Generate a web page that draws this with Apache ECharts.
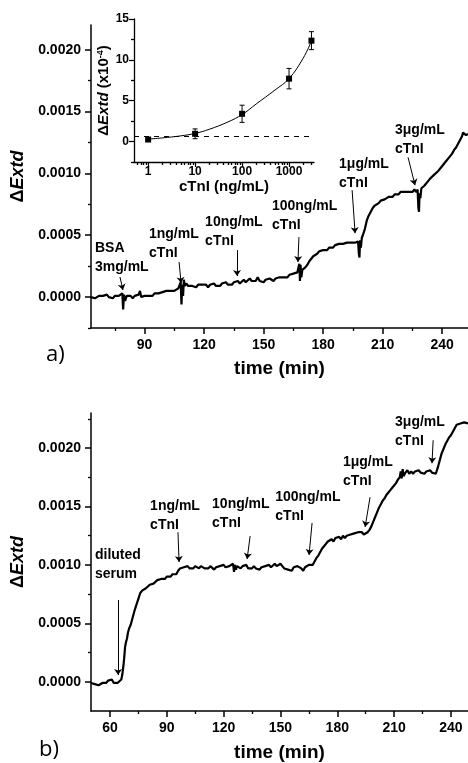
<!DOCTYPE html>
<html>
<head>
<meta charset="utf-8">
<script src="https://cdn.jsdelivr.net/npm/echarts@6/dist/echarts.min.js"></script>
<style>
  html, body { margin: 0; padding: 0; background: #fff; }
  #chart { width: 468px; height: 763px; }
</style>
</head>
<body>
<div id="chart"></div>
<script>
// ---- panel a) : BSA then cTnI steps ----
const aTime = [63,64,65,66,67,68,69,70,71,72,73,74,75,76,77,78,78.8,79.2,79.6,80.2,81,82,83,84,85,86,87,87.7,88.3,89,
  90,91,92,93,94,95,96,97,98,99,100,101,102,103,104,105,106,107,107.8,108.2,108.6,109,109.4,109.8,110.3,111,112,113,114,115,
  116,117,118,119,120,121,122,123,124,125,126,127,128,129,130,131,132,133,134,135,136,137,138,139,140,141,142,143,144,145,
  146,147,148,149,150,151,152,153,154,155,156,157,158,159,160,161,162,163,164,165,166,167,167.6,168,168.3,168.6,169,169.5,170,171,
  172,173,174,175,176,177,178,179,180,181,182,183,184,185,186,187,188,189,190,191,192,193,194,195,196,197,197.6,198,198.3,198.6,
  199,199.5,200,201,202,203,204,205,206,207,208,209,210,211,212,213,214,215,216,217,218,219,220,221,222,223,224,225,226,227,
  227.6,228,228.3,228.6,229,229.5,230,231,232,233,234,235,236,237,238,239,240,241,242,243,244,245,246,247,248,249,250,250.5,251,252,253];
const aValue = [0,0.00001,-0.00001,0,0.00001,0,0.00001,0,0.00002,0,0.00001,-0.00001,0.00001,0,0.00001,0,0.00003,-0.0001,0.00002,-0.00003,0.00001,0,0.00001,-0.00001,0.00001,0,0.00002,0.00005,0,0.00001,
  0.00001,0.00002,0.00001,0.00002,0.00001,0.00003,0.00002,0.00003,0.00002,0.00004,0.00003,0.00005,0.00004,0.00005,0.00006,0.00005,0.00006,0.00007,0.00006,0.00012,-0.00006,0.0001,0.00001,0.00014,0.00009,0.00011,0.00009,0.0001,0.00009,0.0001,
  0.00008,0.0001,0.00009,0.0001,0.00009,0.0001,0.00008,0.0001,0.00009,0.00011,0.00009,0.0001,0.00009,0.00011,0.0001,0.00012,0.0001,0.00011,0.0001,0.00012,0.00011,0.00013,0.00011,0.00012,0.00014,0.00012,0.00013,0.00015,0.00013,0.00014,
  0.00013,0.00016,0.00013,0.00014,0.00012,0.00014,0.00013,0.00015,0.00014,0.00013,0.00015,0.00014,0.00016,0.00015,0.00016,0.00017,0.00016,0.00018,0.00017,0.00019,0.00018,0.0002,0.00019,0.00027,0.00013,0.00026,0.00016,0.00022,0.00021,0.00024,
  0.00026,0.00029,0.00031,0.00033,0.00034,0.00035,0.00037,0.00036,0.00038,0.00039,0.00038,0.0004,0.00041,0.0004,0.00042,0.00041,0.00043,0.00042,0.00043,0.00042,0.00044,0.00043,0.00044,0.00043,0.00044,0.00043,0.00045,0.00035,0.00032,0.00046,
  0.0004,0.00048,0.0005,0.00055,0.00062,0.00066,0.00069,0.00072,0.00074,0.00075,0.00076,0.00078,0.00077,0.00079,0.0008,0.00081,0.00082,0.00081,0.00083,0.00084,0.00083,0.00085,0.00084,0.00085,0.00086,0.00085,0.00086,0.00085,0.00087,0.00085,
  0.00087,0.00072,0.00069,0.00084,0.0008,0.00088,0.00089,0.0009,0.00092,0.00094,0.00096,0.00097,0.00099,0.001,0.00102,0.00104,0.00106,0.00108,0.0011,0.00112,0.00114,0.00116,0.00119,0.00121,0.00124,0.00127,0.0013,0.00133,0.00132,0.00131,0.00132];

// ---- panel b) : diluted serum then cTnI steps ----
const bTime = [50,51,52,53,54,55,56,57,58,59,60,61,62,63,64,65,66,66.5,67,67.5,68,68.5,69,69.5,70,71,72,73,74,75,
  76,77,78,79,80,81,82,83,84,85,86,87,88,89,90,91,92,93,94,95,96,97,98,99,100,101,102,103,104,105,
  106,107,108,109,110,111,112,113,114,115,116,117,118,119,120,121,122,123,124,125,125.5,126,126.5,127,128,129,130,131,132,133,
  134,135,136,137,138,139,140,141,142,143,144,145,146,147,148,149,150,151,152,153,154,155,156,157,158,159,160,161,162,163,
  164,165,166,167,168,169,170,171,172,173,174,175,176,177,178,179,180,181,182,183,184,185,186,187,188,189,190,191,192,193,
  194,195,196,197,198,199,200,201,202,203,204,205,206,207,208,209,210,211,212,213,213.5,214,214.5,215,216,217,218,219,220,221,
  222,223,224,225,226,227,228,229,230,231,232,233,234,235,236,237,238,239,240,241,242,243,244,245,246,247,248,249];
const bValue = [-0.00001,0,-0.00002,-0.00001,-0.00003,-0.00002,-0.00001,0,-0.00001,0.00001,0,0.00002,-0.00001,-0.00002,-0.00001,0,0.00002,0.00006,0.00012,0.0002,0.0003,0.00034,0.00037,0.00042,0.00045,0.00049,0.00055,0.00061,0.00066,0.00071,
  0.00076,0.00078,0.00079,0.0008,0.00081,0.00083,0.00082,0.00084,0.00085,0.00087,0.00086,0.00088,0.00089,0.00088,0.0009,0.00091,0.0009,0.00092,0.00093,0.00092,0.00095,0.00097,0.00096,0.00098,0.00097,0.00099,0.00097,0.00098,0.00097,0.00099,
  0.00098,0.00097,0.00099,0.00098,0.00097,0.00098,0.00097,0.00099,0.00098,0.00096,0.00098,0.00097,0.00099,0.00098,0.001,0.00098,0.00097,0.00099,0.00098,0.00101,0.00094,0.001,0.00096,0.00099,0.00098,0.00097,0.00099,0.00098,0.001,0.00097,
  0.00098,0.00097,0.00099,0.00097,0.00098,0.00096,0.00098,0.00097,0.00099,0.00098,0.001,0.00098,0.00099,0.00101,0.00099,0.001,0.00101,0.00099,0.00097,0.00098,0.00096,0.00097,0.00095,0.00098,0.00097,0.00099,0.00098,0.00097,0.00095,0.00098,
  0.00099,0.001,0.00101,0.001,0.00103,0.00106,0.00108,0.00111,0.00114,0.00116,0.00118,0.0012,0.00121,0.00122,0.0012,0.00123,0.00122,0.00124,0.00122,0.00125,0.00123,0.00125,0.00124,0.00126,0.00125,0.00127,0.00126,0.00128,0.00127,0.00128,
  0.00126,0.00127,0.00128,0.0013,0.00133,0.00137,0.00141,0.00145,0.00149,0.00152,0.00155,0.00157,0.0016,0.00162,0.00164,0.00166,0.00168,0.0017,0.00173,0.00175,0.0018,0.00174,0.00182,0.00176,0.00179,0.00181,0.00178,0.0018,0.00178,0.0018,
  0.00179,0.00181,0.00179,0.0018,0.00178,0.0018,0.00179,0.00181,0.00179,0.0018,0.00178,0.00183,0.00189,0.00195,0.00199,0.00203,0.00206,0.00209,0.00211,0.00214,0.00217,0.0022,0.00219,0.00221,0.0022,0.00222,0.00221,0.00221];

// ---- inset: calibration ----
const insetConc = [1, 10, 100, 1000, 3000];
const insetSignal = [0.25, 0.95, 3.4, 7.7, 12.35];
const insetError = [0.2, 0.6, 1.05, 1.25, 1.1];
const fitConc = [1, 2, 5, 10, 20, 50, 100, 200, 500, 1000, 2000, 3000];
const fitSignal = [0.3, 0.45, 0.7, 1.0, 1.5, 2.4, 3.3, 4.6, 6.3, 7.7, 10.2, 12.3];
const cutoffSignal = 0.6;

// ---- annotations (text + arrow, in data units) ----
const aNoteText = ['BSA\n3mg/mL', '1ng/mL\ncTnI', '10ng/mL\ncTnI', '100ng/mL\ncTnI', '1μg/mL\ncTnI', '3μg/mL\ncTnI'];
const aNoteAt = [[65, 0.000315], [92.2, 0.00043], [120.5, 0.00053], [154.2, 0.000655], [188, 0.001], [216.2, 0.00127]];
const aArrows = [
  [[77.6, 0.000162], [79.1, 0.000057], 0],
  [[107.4, 0.000283], [108.4, 0.000113], 0],
  [[136.6, 0.00038], [136.6, 0.00017], 0],
  [[167.8, 0.000485], [167.3, 0.000283], 0],
  [[194.6, 0.000865], [196.1, 0.000517], 0.15],
  [[222.8, 0.00113], [226.3, 0.000905], 0.2]
];
const bNoteText = ['diluted\nserum', '1ng/mL\ncTnI', '10ng/mL\ncTnI', '100ng/mL\ncTnI', '1μg/mL\ncTnI', '3μg/mL\ncTnI'];
const bNoteAt = [[52.1, 0.001], [81.2, 0.00142], [113.9, 0.001436], [147.2, 0.0015], [183, 0.0018], [210.5, 0.00214]];
const bArrows = [
  [[64.3, 0.0007], [64.3, 0.000058], 0],
  [[95.9, 0.00128], [96.5, 0.001025], 0],
  [[134, 0.001247], [132.4, 0.00105], 0],
  [[166.7, 0.001359], [165.1, 0.001085], 0],
  [[197.3, 0.00158], [194.7, 0.001325], 0],
  [[230.6, 0.002067], [230, 0.00187], 0]
];

const yMajor = [0, 0.0005, 0.001, 0.0015, 0.002];
const aYMinor = [-0.00025, 0.00025, 0.00075, 0.00125, 0.00175];
const bYMinor = [0.00025, 0.00075, 0.00125, 0.00175, 0.00225];
const aXMajor = [90, 120, 150, 180, 210, 240];
const aXMinor = [75, 105, 135, 165, 195, 225];
const bXMajor = [60, 90, 120, 150, 180, 210, 240];
const bXMinor = [75, 105, 135, 165, 195, 225];
const insetXMajor = [1, 10, 100, 1000];
const insetXMinor = [0.6, 0.7, 0.8, 0.9, 2, 3, 4, 5, 6, 7, 8, 9, 20, 30, 40, 50, 60, 70, 80, 90,
  200, 300, 400, 500, 600, 700, 800, 900, 2000, 3000];
const insetYMajor = [0, 5, 10, 15];
const insetYMinor = [-2.5, 2.5, 7.5, 12.5];

const FONT = '"Liberation Sans", Arial, sans-serif';
const BLACK = '#000';

function zip(xs, ys) {
  return xs.map((x, i) => [x, ys[i]]);
}

function majorAxis(gridIndex, type, position, min, max, ticks, opts) {
  return Object.assign({
    gridIndex, type, position, min, max,
    axisLine: {show: true, onZero: false, lineStyle: {color: BLACK, width: 1.5}},
    axisTick: {show: true, inside: false, length: 6, customValues: ticks, lineStyle: {color: BLACK, width: 1.5}},
    axisLabel: {
      customValues: ticks, color: BLACK, fontSize: 14, fontWeight: 'bold', fontFamily: FONT, margin: 10
    },
    splitLine: {show: false}
  }, opts || {});
}

function minorAxis(gridIndex, type, position, min, max, ticks, len) {
  return {
    gridIndex, type, position, min, max,
    axisLine: {show: false, onZero: false},
    axisTick: {show: true, inside: false, length: len, customValues: ticks, lineStyle: {color: BLACK, width: 1.3}},
    axisLabel: {show: false},
    splitLine: {show: false}
  };
}

function bigYName() {
  return {
    name: '{d|Δ}{i|Extd}', nameLocation: 'middle', nameGap: 57, nameRotate: 90,
    nameTextStyle: {
      rich: {
        d: {fontSize: 18, fontWeight: 'bold', fontFamily: FONT, color: BLACK},
        i: {fontSize: 18, fontWeight: 'bold', fontStyle: 'italic', fontFamily: FONT, color: BLACK}
      }
    }
  };
}

function timeName(gap) {
  return {
    name: 'time (min)', nameLocation: 'middle', nameGap: gap,
    nameTextStyle: {fontSize: 19, fontWeight: 'bold', fontFamily: FONT, color: BLACK}
  };
}

function extdLabels() {
  return {
    customValues: yMajor, color: BLACK, fontSize: 14, fontWeight: 'bold', fontFamily: FONT, margin: 10,
    formatter: v => Number(v).toFixed(4)
  };
}

function noteSeries(xIdx, texts, at) {
  return {
    type: 'scatter', xAxisIndex: xIdx, yAxisIndex: xIdx, symbolSize: 0, silent: true, z: 5,
    itemStyle: {opacity: 1},
    data: at.map((p, i) => ({value: p, name: texts[i]})),
    label: {
      show: true, position: [0, 0], align: 'left', verticalAlign: 'middle', opacity: 1,
      formatter: p => p.name, color: BLACK, fontSize: 14, fontWeight: 'bold',
      fontFamily: FONT, lineHeight: 19
    }
  };
}

function arrowLines(arrows) {
  return {
    silent: true, symbol: ['none', 'arrow'], symbolSize: [6, 6],
    label: {show: false},
    lineStyle: {color: BLACK, width: 1, type: 'solid', opacity: 1},
    itemStyle: {color: BLACK},
    emphasis: {disabled: true},
    data: arrows.map(a => [
      {coord: a[0], lineStyle: {curveness: a[2]}},
      {coord: a[1]}
    ])
  };
}

const chart = echarts.init(document.getElementById('chart'), null, {renderer: 'canvas'});

chart.setOption({
  backgroundColor: '#fff',
  animation: false,
  grid: [
    {left: 91, top: 25, width: 377, height: 303, outerBoundsMode: 'none'},
    {left: 91, top: 413, width: 377, height: 298, outerBoundsMode: 'none'},
    {left: 134, top: 19, width: 180, height: 143, outerBoundsMode: 'none'}
  ],
  xAxis: [
    majorAxis(0, 'value', 'bottom', 63, 253, aXMajor, timeName(31)),
    minorAxis(0, 'value', 'bottom', 63, 253, aXMinor, 3),
    majorAxis(1, 'value', 'bottom', 50, 249, bXMajor, timeName(32)),
    minorAxis(1, 'value', 'bottom', 50, 249, bXMinor, 3),
    majorAxis(2, 'log', 'bottom', 0.5, 3400, insetXMajor, {
      logBase: 10,
      axisLine: {show: true, onZero: false, lineStyle: {color: BLACK, width: 1.3}},
      axisTick: {show: true, inside: false, length: 5, customValues: insetXMajor, lineStyle: {color: BLACK, width: 1.2}},
      axisLabel: {
        customValues: insetXMajor, color: BLACK, fontSize: 12, fontWeight: 'bold', fontFamily: FONT, margin: 4,
        formatter: v => String(Math.round(v))
      },
      name: 'cTnI (ng/mL)', nameLocation: 'middle', nameGap: 16,
      nameTextStyle: {fontSize: 15, fontWeight: 'bold', fontFamily: FONT, color: BLACK}
    }),
    Object.assign(minorAxis(2, 'log', 'bottom', 0.5, 3400, insetXMinor, 3), {logBase: 10})
  ],
  yAxis: [
    majorAxis(0, 'value', 'left', -0.00025, 0.0022, yMajor, Object.assign(bigYName(), {axisLabel: extdLabels()})),
    minorAxis(0, 'value', 'left', -0.00025, 0.0022, aYMinor, 3),
    majorAxis(1, 'value', 'left', -0.00025, 0.0023, yMajor, Object.assign(bigYName(), {axisLabel: extdLabels()})),
    minorAxis(1, 'value', 'left', -0.00025, 0.0023, bYMinor, 3),
    majorAxis(2, 'value', 'left', -2.5, 15, insetYMajor, {
      axisLine: {show: true, onZero: false, lineStyle: {color: BLACK, width: 1.3}},
      axisTick: {show: true, inside: false, length: 5, customValues: insetYMajor, lineStyle: {color: BLACK, width: 1.2}},
      axisLabel: {customValues: insetYMajor, color: BLACK, fontSize: 12, fontWeight: 'bold', fontFamily: FONT, margin: 5},
      name: '{d|Δ}{i|Extd}{n| (x10}{s|-4}{n|)}', nameLocation: 'middle', nameGap: 21, nameRotate: 90,
      nameTextStyle: {
        rich: {
          d: {fontSize: 15, fontWeight: 'bold', fontFamily: FONT, color: BLACK},
          i: {fontSize: 15, fontWeight: 'bold', fontStyle: 'italic', fontFamily: FONT, color: BLACK},
          n: {fontSize: 15, fontWeight: 'bold', fontFamily: FONT, color: BLACK},
          s: {fontSize: 9, fontWeight: 'bold', fontFamily: FONT, color: BLACK, verticalAlign: 'top', padding: [0, 0, 8, 0]}
        }
      }
    }),
    minorAxis(2, 'value', 'left', -2.5, 15, insetYMinor, 3)
  ],
  graphic: [
    {type: 'text', left: 46, top: 344, style: {text: 'a)', fontSize: 22, fontFamily: '"Open Sans", sans-serif', fill: BLACK}},
    {type: 'text', left: 39, top: 739, style: {text: 'b)', fontSize: 22, fontFamily: '"Open Sans", sans-serif', fill: BLACK}}
  ],
  series: [
    {
      type: 'line', xAxisIndex: 0, yAxisIndex: 0, data: zip(aTime, aValue),
      showSymbol: false, symbol: 'none', silent: true,
      lineStyle: {color: BLACK, width: 2.2},
      markLine: arrowLines(aArrows)
    },
    noteSeries(0, aNoteText, aNoteAt),
    {
      type: 'line', xAxisIndex: 2, yAxisIndex: 2, data: zip(bTime, bValue),
      showSymbol: false, symbol: 'none', silent: true,
      lineStyle: {color: BLACK, width: 2.2},
      markLine: arrowLines(bArrows)
    },
    noteSeries(2, bNoteText, bNoteAt),
    // inset
    {
      type: 'line', xAxisIndex: 4, yAxisIndex: 4, data: zip(fitConc, fitSignal),
      smooth: 0.4, showSymbol: false, symbol: 'none', silent: true,
      lineStyle: {color: BLACK, width: 1},
      markLine: {
        silent: true, symbol: ['none', 'none'], label: {show: false},
        lineStyle: {color: BLACK, width: 1, type: [5, 5]},
        data: [{yAxis: cutoffSignal}]
      }
    },
    {
      type: 'custom', xAxisIndex: 4, yAxisIndex: 4, silent: true,
      data: insetConc.map((c, i) => [c, insetSignal[i], insetError[i]]),
      encode: {x: 0, y: 1},
      renderItem: (params, api) => {
        const x = api.value(0), y = api.value(1), e = api.value(2);
        const lo = api.coord([x, y - e]);
        const hi = api.coord([x, y + e]);
        const w = 2.5;
        const st = {stroke: BLACK, lineWidth: 1};
        return {
          type: 'group',
          children: [
            {type: 'line', shape: {x1: lo[0], y1: lo[1], x2: hi[0], y2: hi[1]}, style: st},
            {type: 'line', shape: {x1: lo[0] - w, y1: lo[1], x2: lo[0] + w, y2: lo[1]}, style: st},
            {type: 'line', shape: {x1: hi[0] - w, y1: hi[1], x2: hi[0] + w, y2: hi[1]}, style: st}
          ]
        };
      }
    },
    {
      type: 'scatter', xAxisIndex: 4, yAxisIndex: 4, silent: true,
      data: zip(insetConc, insetSignal),
      symbol: 'rect', symbolSize: 6, itemStyle: {color: BLACK, opacity: 1}
    }
  ]
});
</script>
</body>
</html>
